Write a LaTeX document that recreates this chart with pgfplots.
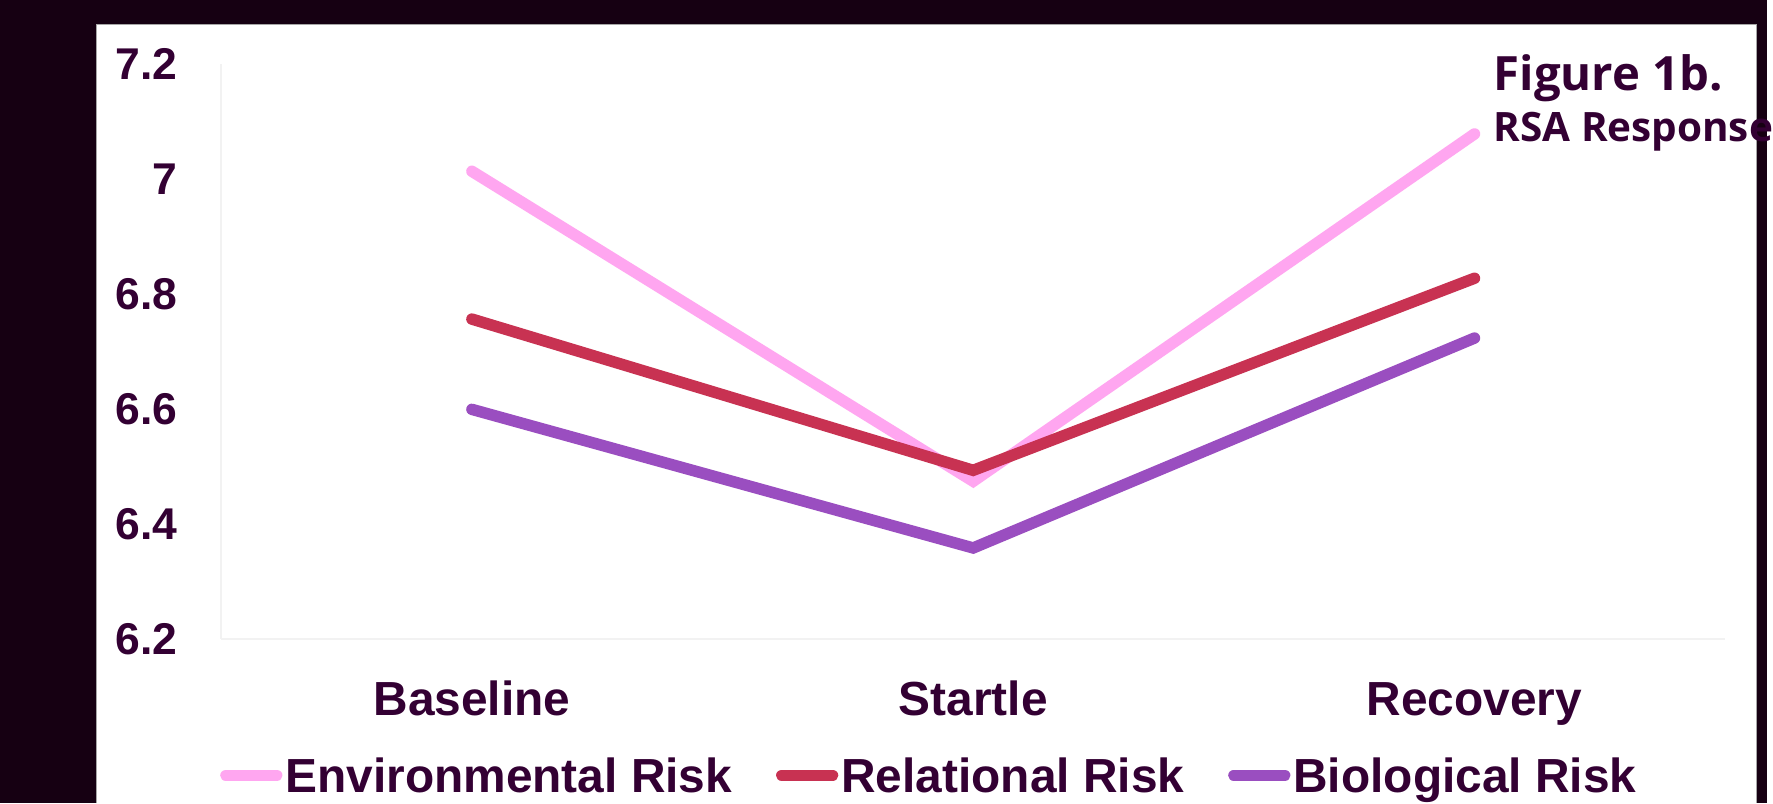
\documentclass[border=0pt]{standalone}
\usepackage{pgfplots}
\pgfplotsset{compat=1.18}
\usepackage{fontspec}
\setmainfont{Liberation Sans}
\newfontfamily\titlefont{Open Sans}
\definecolor{bgc}{RGB}{22,0,18}
\definecolor{txt}{RGB}{51,0,51}
\definecolor{envc}{RGB}{255,166,240}
\definecolor{relc}{RGB}{200,50,82}
\definecolor{bioc}{RGB}{154,78,192}
\begin{document}
\begin{tikzpicture}
\fill[bgc] (0,0) rectangle (177.3mm,80.6mm);
\fill[white] (9.7mm,0) rectangle (176.2mm,78.1mm);
\draw[gray!70, line width=0.3pt] (9.7mm,0) -- (9.7mm,78.1mm) -- (176.2mm,78.1mm) -- (176.2mm,0);
\begin{axis}[
  at={(22.2mm,16.5mm)}, anchor=south west,
  scale only axis, width=150.9mm, height=57.7mm,
  xmin=-0.5, xmax=2.5, ymin=6.2, ymax=7.2,
  axis x line*=bottom, axis y line*=left,
  axis line style={draw=black!5, line width=0.6pt},
  major tick length=0pt,
  xtick={0,1,2}, xticklabels={Baseline,Startle,Recovery},
  ytick={6.2,6.4,6.6,6.8,7,7.2}, yticklabels={6.2,6.4,6.6,6.8,7,7.2},
  ticklabel style={font=\fontsize{13.66pt}{16pt}\selectfont\bfseries, text=txt, inner sep=0pt},
  yticklabel style={anchor=east, xshift=-4.3mm, font=\fontsize{12.7pt}{15pt}\selectfont\bfseries},
  xticklabel style={anchor=north, yshift=-4.2mm, text height=3.44mm, text depth=0pt},
  clip=false,
  legend columns=-1,
  legend style={draw=none, fill=none, inner sep=0pt, outer sep=0pt,
    at={(axis description cs:-0.0007,-0.2374)}, anchor=west,
    nodes={inner sep=0pt, outer sep=0pt, text height=3.44mm, text depth=0pt, font=\fontsize{13.66pt}{16pt}\selectfont\bfseries, text=txt},
    /tikz/every odd column/.append style={column sep=0.3mm},
    /tikz/every even column/.append style={column sep=4.4mm}},
  legend image code/.code={\draw[#1, line width=1.15mm, line cap=round] (0mm,0mm) -- (5.1mm,0mm);},
  every axis plot/.append style={line width=1.15mm, line cap=round, line join=miter},
]
\addplot[envc] coordinates {(0,7.013) (1,6.474) (2,7.078)};
\addlegendentry{Environmental Risk}
\addplot[relc] coordinates {(0,6.756) (1,6.493) (2,6.827)};
\addlegendentry{Relational Risk}
\addplot[bioc] coordinates {(0,6.599) (1,6.358) (2,6.723)};
\addlegendentry{Biological Risk}
\end{axis}
\node[anchor=base west, inner sep=0pt, text=txt, font=\titlefont\bfseries\fontsize{13.5pt}{15pt}\selectfont] at (149.8mm,71.5mm) {Figure 1b.};
\node[anchor=base west, inner sep=0pt, text=txt, font=\titlefont\bfseries\fontsize{11.55pt}{13pt}\selectfont] at (149.8mm,66.4mm) {RSA Response};
\end{tikzpicture}
\end{document}
